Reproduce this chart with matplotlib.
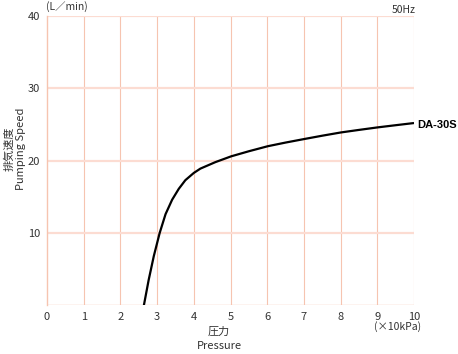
import matplotlib
matplotlib.use('Agg')
import matplotlib.pyplot as plt

plt.rcParams['font.family'] = ['Noto Sans CJK JP', 'DejaVu Sans']

# DA-30S pumping speed curve
pressure = [2.64, 2.77, 2.91, 3.07, 3.23, 3.41, 3.59, 3.77, 4.0, 4.18, 4.59,
            5.02, 5.5, 6.02, 6.5, 7.02, 7.5, 8.01, 8.5, 9.01, 9.5, 10.0]
speed = [0, 3.5, 6.8, 10.0, 12.6, 14.6, 16.1, 17.3, 18.3, 18.9, 19.8,
         20.6, 21.3, 22.0, 22.5, 23.0, 23.45, 23.9, 24.25, 24.6, 24.9, 25.2]
xticks = list(range(0, 11))
yticks = [10, 20, 30, 40]

fig = plt.figure(figsize=(4.58, 3.54), dpi=100)
ax = fig.add_axes([47/458, 1-305.3/354, 367/458, 289.3/354])

for x in xticks[1:]:
    ax.axvline(x, color='#f6c4b0', lw=0.8, zorder=1)
for y in yticks:
    ax.axhline(y, color='#fcdcd2', lw=1.6, zorder=1)
ax.axhline(0, color='#f6c4b0', lw=1.0, zorder=1)

ax.plot(pressure, speed, color='black', lw=1.6, zorder=3, solid_capstyle='butt')

ax.set_xlim(0, 10)
ax.set_ylim(0, 40)
ax.set_xticks(xticks)
ax.set_yticks(yticks)
ax.tick_params(length=0, labelsize=8, labelcolor='#333333', pad=5)
for s in ax.spines.values():
    s.set_visible(False)
ax.spines['left'].set_visible(True)
ax.spines['left'].set_color('#f6c4b0')
ax.spines['left'].set_linewidth(1.0)

fig.text(46/458, 1-7/354, '(L／min)', fontsize=7.5, color='#333333', va='center', ha='left')
fig.text(416/458, 1-10/354, '50Hz', fontsize=7.5, color='#333333', va='center', ha='right')
fig.text(398/458, 1-327/354, '(×10kPa)', fontsize=7.5, color='#333333', va='center', ha='center')
fig.text(219/458, 1-332/354, '圧力', fontsize=8, color='#333333', va='center', ha='center')
fig.text(219/458, 1-346/354, 'Pressure', fontsize=8, color='#333333', va='center', ha='center')
fig.text(9/458, 1-149/354, '排気速度', fontsize=8, color='#333333', va='center', ha='center', rotation=90)
fig.text(21/458, 1-149/354, 'Pumping Speed', fontsize=8, color='#333333', va='center', ha='center', rotation=90)
fig.text(417/458, 1-125/354, 'DA-30S', fontsize=8, fontweight='bold', color='black',
         va='center', ha='left', family=['Liberation Sans', 'DejaVu Sans'])

fig.savefig('out.png', dpi=100)
